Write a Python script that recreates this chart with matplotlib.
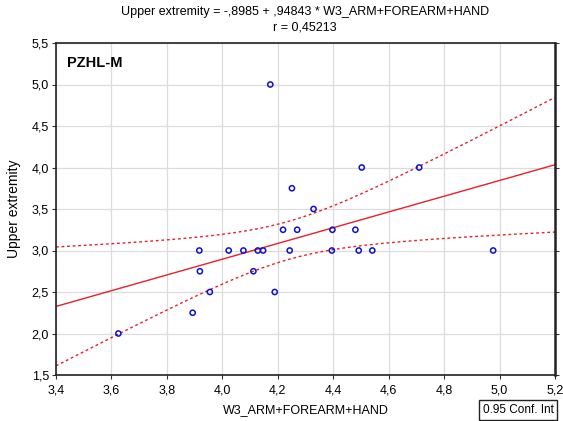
import numpy as np
import matplotlib
matplotlib.use("Agg")
import matplotlib.pyplot as plt
from matplotlib.ticker import FuncFormatter

plt.rcParams['font.family'] = ['Liberation Sans', 'DejaVu Sans']

x_vals = [3.625, 3.893, 3.917, 3.919, 3.955, 4.023, 4.076, 4.112, 4.128, 4.147,
          4.173, 4.189, 4.219, 4.243, 4.251, 4.270, 4.329, 4.395, 4.397, 4.480,
          4.492, 4.503, 4.541, 4.710, 4.977]
y_vals = [2.00, 2.25, 3.00, 2.75, 2.50, 3.00, 3.00, 2.75, 3.00, 3.00,
          5.00, 2.50, 3.25, 3.00, 3.75, 3.25, 3.50, 3.00, 3.25, 3.25,
          3.00, 4.00, 3.00, 4.00, 3.00]
intercept = -0.8985
slope = 0.94843
r_value = 0.45213
x_ticks = [3.4, 3.6, 3.8, 4.0, 4.2, 4.4, 4.6, 4.8, 5.0, 5.2]
y_ticks = [1.5, 2.0, 2.5, 3.0, 3.5, 4.0, 4.5, 5.0, 5.5]

x = np.array(x_vals)
y = np.array(y_vals)
n = len(x)
xs = np.linspace(3.4, 5.2, 200)
yfit = intercept + slope * xs
resid = y - (intercept + slope * x)
s = np.sqrt(np.sum(resid**2) / (n - 2))
sxx = np.sum((x - x.mean())**2)
tval = 2.0687
half = tval * s * np.sqrt(1.0 / n + (xs - x.mean())**2 / sxx)

fig = plt.figure(figsize=(5.63, 4.21), dpi=100)
ax = fig.add_axes([56/563, 1 - 375/421, 499/563, 332/421])

ax.grid(True, color='#dcdcdc', linewidth=0.9)
ax.set_axisbelow(True)
ax.plot(xs, yfit, color='#e8202a', linewidth=1.0)
ax.plot(xs, yfit + half, color='#e8202a', linewidth=1.0, linestyle=(0, (2, 2)))
ax.plot(xs, yfit - half, color='#e8202a', linewidth=1.0, linestyle=(0, (2, 2)))
ax.scatter(x, y, s=14, facecolors='none', edgecolors='#1010cc', linewidths=1.1, zorder=3)

ax.set_xlim(3.4, 5.2)
ax.set_ylim(1.5, 5.5)
ax.set_xticks(x_ticks)
ax.set_yticks(y_ticks)
fmt = FuncFormatter(lambda v, p: f"{v:.1f}".replace('.', ','))
ax.xaxis.set_major_formatter(fmt)
ax.yaxis.set_major_formatter(fmt)
ax.tick_params(axis='both', labelsize=9, length=3, color='#333333')
ax.tick_params(axis='x', pad=4)
ax.tick_params(axis='y', pad=2)
ax.tick_params(axis='y', which='both', right=True)
for sp in ax.spines.values():
    sp.set_color('#222222')
    sp.set_linewidth(1.2)
ax.spines['right'].set_linewidth(1.8)

ax.set_xlabel('W3_ARM+FOREARM+HAND', fontsize=9, labelpad=5)
ax.set_ylabel('Upper extremity', fontsize=10, labelpad=8)
fig.text(305/563, 1 - 12/421, 'Upper extremity = -,8985 + ,94843 * W3_ARM+FOREARM+HAND',
         ha='center', va='center', fontsize=9)
fig.text(305/563, 1 - 27/421, 'r = 0,45213', ha='center', va='center', fontsize=9)
ax.text(0.022, 0.94, 'PZHL-M', transform=ax.transAxes, fontsize=10.5,
        fontweight='bold', ha='left', va='center')

fig.text(518/563, 1 - 410/421, '0.95 Conf. Int', ha='center', va='center', fontsize=8.5,
         bbox=dict(boxstyle='square,pad=0.3', facecolor='white', edgecolor='#222222', linewidth=1.0))

fig.savefig('out.png', dpi=100)
